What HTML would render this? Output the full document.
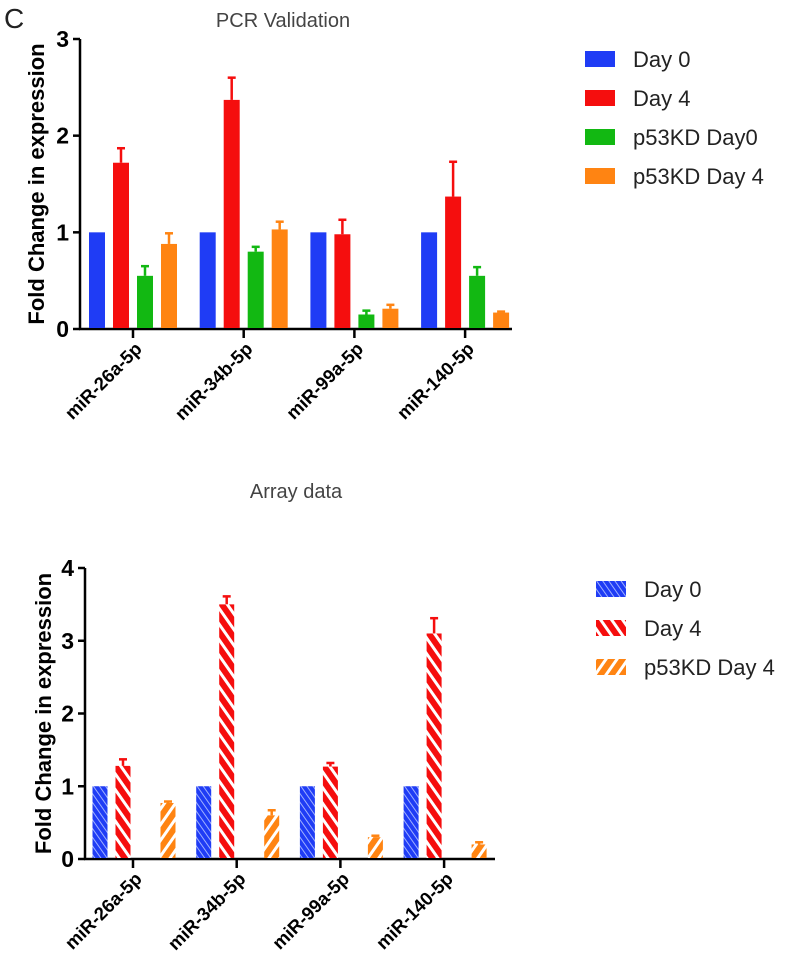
<!DOCTYPE html>
<html><head><meta charset="utf-8"><style>
body{margin:0;background:#fff;width:787px;height:972px;overflow:hidden}
svg{font-family:"Liberation Sans",Arial,sans-serif}
</style></head><body>
<svg id="s" width="787" height="972">
<defs>
<pattern id="pb" patternUnits="userSpaceOnUse" width="5" height="5" patternTransform="rotate(-35)"><rect width="5" height="5" fill="#1f3cf5"/><rect width="1" height="5" fill="#9fb0ff"/></pattern>
<pattern id="pr" patternUnits="userSpaceOnUse" width="9" height="9" patternTransform="rotate(-35)"><rect width="9" height="9" fill="#f50e0e"/><rect width="3" height="9" fill="#fff"/></pattern>
<pattern id="po" patternUnits="userSpaceOnUse" width="9" height="9" patternTransform="rotate(35)"><rect width="9" height="9" fill="#ff8412"/><rect width="3" height="9" fill="#fff"/></pattern>
</defs>
<text x="4" y="28" font-size="28" fill="#222">C</text>
<g id="g1"></g><g id="g2"></g>
</svg>
<script>
const categories=["miR-26a-5p","miR-34b-5p","miR-99a-5p","miR-140-5p"];
const pcrDay0=[1,1,1,1];
const pcrDay4=[1.72,2.37,0.98,1.37];
const pcrDay4Err=[0.15,0.23,0.15,0.36];
const pcrKD0=[0.55,0.8,0.15,0.55];
const pcrKD0Err=[0.1,0.05,0.04,0.09];
const pcrKD4=[0.88,1.03,0.21,0.17];
const pcrKD4Err=[0.11,0.08,0.04,0.01];
const pcrTicks=[0,1,2,3];
const arrDay0=[1,1,1,1];
const arrDay4=[1.28,3.5,1.27,3.1];
const arrDay4Err=[0.09,0.11,0.05,0.21];
const arrKD4=[0.77,0.6,0.3,0.2];
const arrKD4Err=[0.02,0.07,0.02,0.03];
const arrTicks=[0,1,2,3,4];
const NS="http://www.w3.org/2000/svg";
function mk(p,t,a){const e=document.createElementNS(NS,t);for(const k in a)e.setAttribute(k,a[k]);p.appendChild(e);return e;}
function chart(g,o){
  const y=v=>o.y0-(v/o.max)*(o.y0-o.yTop);
  const l=mk(g,'line',{x1:o.x0,y1:o.yTop,x2:o.x0,y2:o.y0,stroke:'#000','stroke-width':2.5});
  
  
  const xl=mk(g,'line',{x1:o.x0-1,y1:o.y0,x2:o.xEnd,y2:o.y0,stroke:'#000','stroke-width':2.5});
  
  
  o.ticks.forEach(t=>{
    mk(g,'line',{x1:o.x0-7,y1:y(t),x2:o.x0,y2:y(t),stroke:'#000','stroke-width':2.5});
    const tx=mk(g,'text',{x:o.x0-11,y:y(t)+8,'font-size':23,'font-weight':'bold','text-anchor':'end'});
    tx.textContent=t;
    
    
  });
  const yt=mk(g,'text',{transform:`translate(${o.yLabX},${(o.y0+o.yTop)/2}) rotate(-90)`,'font-size':22,'font-weight':'bold','text-anchor':'middle'});
  yt.textContent='Fold Change in expression';
  
  
  const tt=mk(g,'text',{x:o.titleX,y:o.titleY,'font-size':20,fill:'#444','text-anchor':'middle'});
  tt.textContent=o.title;
  
  
  categories.forEach((c,i)=>{
    const cx=o.tick0+i*o.tickStep;
    mk(g,'line',{x1:cx,y1:o.y0,x2:cx,y2:o.y0+9,stroke:'#000','stroke-width':2.5});
    const lb=mk(g,'text',{transform:`translate(${cx+10},${o.y0+21}) rotate(-45)`,'font-size':18.5,'font-weight':'bold','text-anchor':'end'});
    lb.textContent=c;
    
    
    o.series.forEach(s=>{
      const bx=cx+s.off-o.bw/2, v=s.vals[i];
      if(s.err){
        const top=y(v+s.err[i]);
        mk(g,'line',{x1:cx+s.off,y1:y(v),x2:cx+s.off,y2:top,stroke:s.color,'stroke-width':2.5});
        mk(g,'line',{x1:cx+s.off-4,y1:top,x2:cx+s.off+4,y2:top,stroke:s.color,'stroke-width':2.5});
      }
      const r=mk(g,'rect',{x:bx,y:y(v),width:o.bw,height:o.y0-y(v)-1,fill:s.fill});
      
      
    });
  });
  o.series.forEach((s,j)=>{
    const ly=o.legY+j*o.legStep;
    const sw=mk(g,'rect',{x:o.legX,y:ly-8,width:30,height:16,fill:s.fill});
    
    
    const lt=mk(g,'text',{x:o.legX+48,y:ly+8,'font-size':22,fill:'#222'});
    lt.textContent=s.name;
    
    
  });
}
chart(document.getElementById('g1'),{x0:80,xEnd:512,y0:329,yTop:39,max:3,ticks:pcrTicks,tick0:133,tickStep:110.7,bw:16,
 yLabX:44,title:'PCR Validation',titleX:283,titleY:27,legX:585,legY:59,legStep:39,
 series:[{key:'day0',name:'Day 0',vals:pcrDay0,fill:'#1f3cf5',color:'#1f3cf5',off:-36},
 {key:'day4',name:'Day 4',vals:pcrDay4,err:pcrDay4Err,fill:'#f50e0e',color:'#f50e0e',off:-12},
 {key:'kd0',name:'p53KD Day0',vals:pcrKD0,err:pcrKD0Err,fill:'#12b812',color:'#12b812',off:12},
 {key:'kd4',name:'p53KD Day 4',vals:pcrKD4,err:pcrKD4Err,fill:'#ff8412',color:'#ff8412',off:36}]});
chart(document.getElementById('g2'),{x0:85,xEnd:495,y0:859,yTop:568,max:4,ticks:arrTicks,tick0:133,tickStep:103.7,bw:15,
 yLabX:51,title:'Array data',titleX:296,titleY:498,legX:596,legY:589,legStep:39,
 series:[{key:'day0',name:'Day 0',vals:arrDay0,fill:'url(#pb)',color:'#1f3cf5',off:-33},
 {key:'day4',name:'Day 4',vals:arrDay4,err:arrDay4Err,fill:'url(#pr)',color:'#f50e0e',off:-10},
 {key:'kd4',name:'p53KD Day 4',vals:arrKD4,err:arrKD4Err,fill:'url(#po)',color:'#ff8412',off:35}]});
</script>
</body></html>
